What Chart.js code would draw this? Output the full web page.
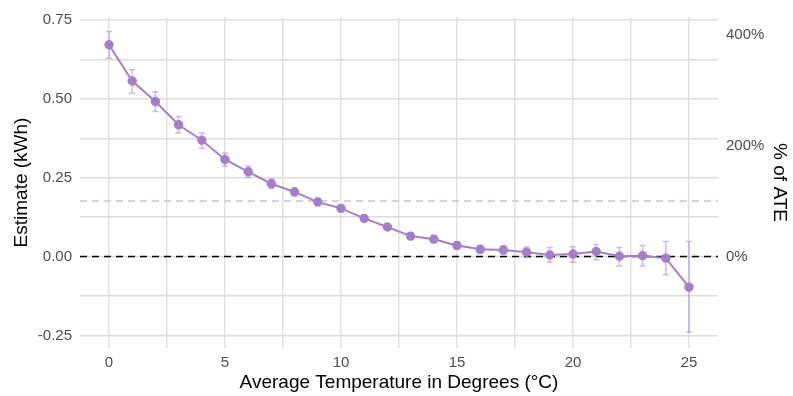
<!DOCTYPE html>
<html>
<head>
<meta charset="utf-8">
<script src="https://cdn.jsdelivr.net/npm/chart.js@4.4.1/dist/chart.umd.min.js"></script>
<style>
  html, body { margin: 0; padding: 0; background: #fff; }
  #wrap { width: 793px; height: 396px; position: relative; }
</style>
</head>
<body>
<div id="wrap"><canvas id="chart-ate"></canvas></div>
<script>
// data
const temps = [0, 1, 2, 3, 4, 5, 6, 7, 8, 9, 10, 11, 12, 13, 14, 15, 16, 17, 18, 19, 20, 21, 22, 23, 24, 25];
const estimates = [0.672, 0.557, 0.492, 0.418, 0.369, 0.308, 0.269, 0.231, 0.205, 0.173, 0.153, 0.121, 0.094,
  0.065, 0.055, 0.035, 0.023, 0.021, 0.014, 0.005, 0.008, 0.016, 0.001, 0.003, -0.005, -0.097];
const lowerCI = [0.630, 0.518, 0.460, 0.392, 0.344, 0.287, 0.252, 0.216, 0.192, 0.161, 0.143, 0.112, 0.085,
  0.054, 0.044, 0.023, 0.010, 0.008, -0.003, -0.018, -0.018, -0.010, -0.030, -0.030, -0.058, -0.240];
const upperCI = [0.714, 0.593, 0.523, 0.444, 0.392, 0.328, 0.287, 0.246, 0.218, 0.185, 0.164, 0.130, 0.103,
  0.075, 0.066, 0.047, 0.036, 0.034, 0.030, 0.029, 0.031, 0.038, 0.029, 0.035, 0.048, 0.048];
const ate = 0.176; // average treatment effect (dashed purple line = 100%)

const xTicks = [0, 2.5, 5, 7.5, 10, 12.5, 15, 17.5, 20, 22.5, 25];
const yTicks = [-0.25, -0.125, 0, 0.125, 0.25, 0.375, 0.5, 0.625, 0.75];
const pctTicks = [0, 200, 400];

const yMin = -0.29, yMax = 0.76;
const purple = '#a47fc9';
const purpleLight = 'rgba(164,127,201,0.55)';

// error bars + reference lines, drawn with the chart scales
const errorBars = {
  id: 'errorBars',
  beforeDatasetsDraw(chart) {
    const { ctx, chartArea, scales: { x, y } } = chart;
    ctx.save();
    // ATE line
    ctx.setLineDash([7, 5]);
    ctx.lineWidth = 1.5;
    ctx.strokeStyle = '#cdbce3';
    ctx.beginPath();
    ctx.moveTo(chartArea.left, y.getPixelForValue(ate));
    ctx.lineTo(chartArea.right, y.getPixelForValue(ate));
    ctx.stroke();
    // zero line
    ctx.strokeStyle = '#000';
    ctx.beginPath();
    ctx.moveTo(chartArea.left, y.getPixelForValue(0));
    ctx.lineTo(chartArea.right, y.getPixelForValue(0));
    ctx.stroke();
    ctx.setLineDash([]);
    // CI bars
    ctx.strokeStyle = purpleLight;
    ctx.lineWidth = 1.5;
    temps.forEach((t, i) => {
      const px = x.getPixelForValue(t);
      const lo = y.getPixelForValue(lowerCI[i]);
      const hi = y.getPixelForValue(upperCI[i]);
      ctx.beginPath();
      ctx.moveTo(px, lo); ctx.lineTo(px, hi);
      ctx.moveTo(px - 3, lo); ctx.lineTo(px + 3, lo);
      ctx.moveTo(px - 3, hi); ctx.lineTo(px + 3, hi);
      ctx.stroke();
    });
    ctx.restore();
  }
};

const tickFont = { family: 'Liberation Sans', size: 15 };
const titleFont = { family: 'Liberation Sans', size: 19 };

const chartAte = document.getElementById('chart-ate');

new Chart(chartAte, {
  type: 'line',
  data: {
    datasets: [{
      label: 'Estimate',
      data: temps.map((t, i) => ({ x: t, y: estimates[i] })),
      borderColor: purple,
      backgroundColor: purple,
      borderWidth: 2,
      pointRadius: 3.7,
      pointHoverRadius: 3.7,
      tension: 0
    }]
  },
  options: {
    responsive: true,
    maintainAspectRatio: false,
    animation: false,
    layout: { padding: { top: 15 } },
    plugins: { legend: { display: false }, tooltip: { enabled: false } },
    scales: {
      x: {
        type: 'linear',
        min: -1.25,
        max: 26.25,
        afterBuildTicks: s => { s.ticks = xTicks.map(v => ({ value: v })); },
        afterFit: s => { s.height = 48; },
        border: { display: false },
        grid: { color: '#e2e2e2', lineWidth: 1.5, drawTicks: false },
        ticks: {
          autoSkip: false, maxRotation: 0, padding: 6,
          color: '#4d4d4d', font: tickFont,
          callback: v => (v % 5 === 0 ? String(v) : '')
        },
        title: {
          display: true, text: 'Average Temperature in Degrees (°C)',
          color: '#000', font: titleFont, padding: { top: 0, bottom: 2 }
        }
      },
      y: {
        position: 'left',
        min: yMin,
        max: yMax,
        afterBuildTicks: s => { s.ticks = yTicks.map(v => ({ value: v })); },
        afterFit: s => { s.width = 80; },
        border: { display: false },
        grid: { color: '#dcdcdc', lineWidth: 1.5, drawTicks: false },
        ticks: {
          autoSkip: false, padding: 8,
          color: '#4d4d4d', font: tickFont,
          callback: v => (Math.abs(v * 4 - Math.round(v * 4)) < 1e-9 ? v.toFixed(2) : '')
        },
        title: {
          display: true, text: 'Estimate (kWh)',
          color: '#000', font: titleFont, padding: { top: 10, bottom: 0 }
        }
      },
      y2: {
        position: 'right',
        min: yMin / ate * 100,
        max: yMax / ate * 100,
        afterBuildTicks: s => { s.ticks = pctTicks.map(v => ({ value: v })); },
        afterFit: s => { s.width = 75; },
        border: { display: false },
        grid: { display: false, drawTicks: false },
        ticks: {
          autoSkip: false, padding: 8,
          color: '#4d4d4d', font: tickFont,
          callback: v => v + '%'
        },
        title: {
          display: true, text: '% of ATE',
          color: '#000', font: titleFont, padding: { top: 2, bottom: 0 }
        }
      }
    }
  },
  plugins: [errorBars]
});
</script>
</body>
</html>
